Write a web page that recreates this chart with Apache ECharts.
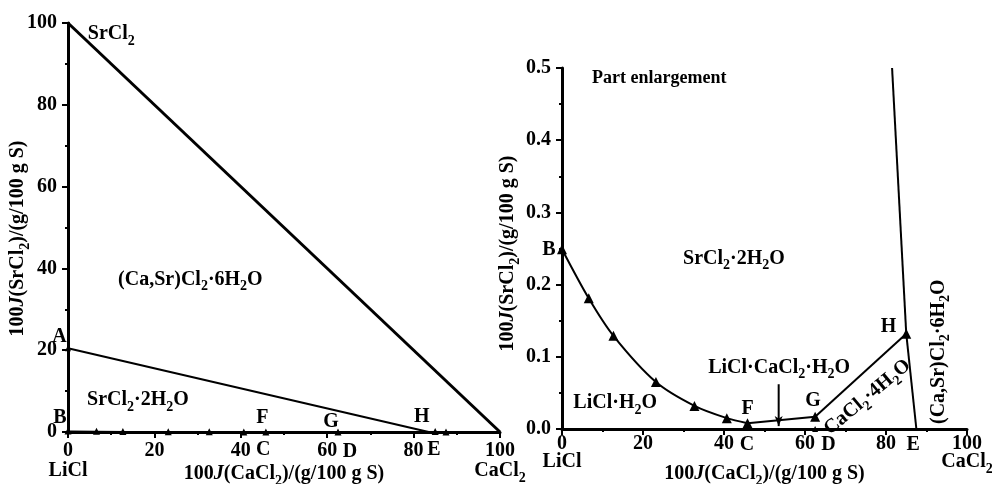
<!DOCTYPE html>
<html><head><meta charset="utf-8">
<script src="https://cdn.jsdelivr.net/npm/echarts@6/dist/echarts.min.js"></script>
<style>html,body{margin:0;padding:0;background:#fff}#c{width:992px;height:484px}</style>
</head><body><div id="c"></div>
<script>
// ---- data ----
const curveX = [0, 6.6, 12.7, 23.2, 32.7, 40.7, 45.8];
const curveY = [0.249, 0.181, 0.129, 0.065, 0.032, 0.015, 0.008];
const fgX = [45.8, 62.5], fgY = [0.008, 0.017];
const ghX = [62.5, 85.0], ghY = [0.017, 0.132];
const hTopX = [85.0, 81.5], hTopY = [0.132, 0.5];
const heX = [85.0, 87.5], heY = [0.132, 0];
const arrowX = [53.5, 53.5], arrowY = [0.062, 0.004];
const pointD = [62.5, 0];
const markerX = [62.5, 85.0], markerY = [0.017, 0.132];
const hypX = [0, 100], hypY = [100, 0];
const ahX = [0, 83.5], ahY = [20.5, 0];
const allX = [0, 6.6, 12.7, 23.2, 32.7, 40.7, 45.8, 62.5, 85.0, 87.5];
const allY = [0.249, 0.181, 0.129, 0.065, 0.032, 0.015, 0.008, 0.017, 0.132, 0];
const pointA = [0, 20.5];
const xName = '100*J*(CaCl_2)/(g/100 g S)';
const yName = '100*J*(SrCl_2)/(g/100 g S)';
// [text, x, y, align, rotate]
const leftLabels = [
  ['SrCl_2', 4.6, 97.3, 'left', 0],
  ['(Ca,Sr)Cl_2·6H_2O', 11.6, 37.2, 'left', 0],
  ['A', -0.3, 23.2, 'right', 0],
  ['SrCl_2·2H_2O', 4.4, 7.8, 'left', 0],
  ['B', -0.3, 3.4, 'right', 0],
  ['F', 45, 3.4, 'center', 0],
  ['G', 60.9, 2.4, 'center', 0],
  ['H', 81.9, 3.7, 'center', 0],
  ['C', 45.2, -4.4, 'center', 0],
  ['D', 65.3, -4.9, 'center', 0],
  ['E', 84.7, -4.4, 'center', 0]
];
const rightLabels = [
  ['Part enlargement', 7.4, 0.486, 'left', 0],
  ['SrCl_2·2H_2O', 29.9, 0.236, 'left', 0],
  ['LiCl·H_2O', 2.8, 0.036, 'left', 0],
  ['LiCl·CaCl_2·H_2O', 36.1, 0.085, 'left', 0],
  ['CaCl_2·4H_2O', 75.4, 0.044, 'center', 40],
  ['(Ca,Sr)Cl_2·6H_2O', 93, 0.107, 'center', 90],
  ['B', -1.6, 0.248, 'right', 0],
  ['F', 45.8, 0.028, 'center', 0],
  ['G', 62, 0.039, 'center', 0],
  ['H', 80.6, 0.141, 'center', 0],
  ['C', 45.7, -0.022, 'center', 0],
  ['D', 65.8, -0.022, 'center', 0],
  ['E', 86.7, -0.022, 'center', 0]
];

// ---- style ----
const FF = '"Liberation Serif","Times New Roman",serif';
const FS = 20;
const rich = {
  n: {fontFamily: FF, fontWeight: 'bold', fontSize: FS, color: '#000'},
  i: {fontFamily: FF, fontWeight: 'bold', fontStyle: 'italic', fontSize: FS, color: '#000'},
  s: {fontFamily: FF, fontWeight: 'bold', fontSize: 14, color: '#000', padding: [14, 0, 0, 0]}
};
const richP = {
  n: {fontFamily: FF, fontWeight: 'bold', fontSize: 18, color: '#000'}
};
function fmt(str) {
  return str.split(/(_\d|\*[A-Za-z]\*)/).filter(t => t.length).map(t => {
    if (t[0] === '_') return '{s|' + t.slice(1) + '}';
    if (t[0] === '*') return '{i|' + t.slice(1, -1) + '}';
    return '{n|' + t + '}';
  }).join('');
}
const zip = (xs, ys) => xs.map((x, k) => [x, ys[k]]);

function xAxisCfg(gi, gap, margin, lh) {
  return {
    type: 'value', gridIndex: gi, min: 0, max: 100, interval: 20,
    name: fmt(xName), nameLocation: 'middle', nameGap: gap, nameMoveOverlap: false,
    nameTextStyle: {rich: rich},
    axisLine: {lineStyle: {color: '#000', width: 3}},
    axisTick: {length: 6, lineStyle: {color: '#000', width: 2}},
    minorTick: {show: true, splitNumber: 2, length: 3, lineStyle: {color: '#000', width: 2}},
    splitLine: {show: false},
    axisLabel: {
      margin: margin, rich: rich, lineHeight: lh, hideOverlap: false,
      formatter: v => v === 0 ? '{n|0}\n{n|LiCl}' : (v === 100 ? '{n|100}\n' + fmt('CaCl_2') : '{n|' + v + '}')
    }
  };
}
function yAxisCfg(gi, max, interval, gap, dec, margin, shift) {
  return {
    type: 'value', gridIndex: gi, min: 0, max: max, interval: interval,
    name: fmt(yName), nameLocation: 'middle', nameGap: gap, nameRotate: 90, nameMoveOverlap: false,
    nameTextStyle: {rich: rich, padding: [0, shift, 0, 0]},
    axisLine: {show: true, lineStyle: {color: '#000', width: 3}},
    axisTick: {show: true, length: 6, lineStyle: {color: '#000', width: 2}},
    minorTick: {show: true, splitNumber: 2, length: 3, lineStyle: {color: '#000', width: 2}},
    splitLine: {show: false},
    axisLabel: {margin: margin, rich: rich, formatter: v => '{n|' + v.toFixed(dec) + '}'}
  };
}
function labelSeries(list, gi) {
  return {
    type: 'scatter', xAxisIndex: gi, yAxisIndex: gi, clip: false, silent: true,
    symbol: 'circle', symbolSize: 0, itemStyle: {color: '#000', opacity: 1}, z: 10,
    emphasis: {disabled: true},
    data: list.map(l => ({
      value: [l[1], l[2]],
      label: {show: true, position: 'inside', formatter: fmt(l[0]), align: l[3], verticalAlign: 'middle',
        rotate: l[4], rich: l[0] === 'Part enlargement' ? richP : rich, color: '#000',
        textBorderWidth: 0, opacity: 1}
    }))
  };
}
const lineBase = (gi, data, w) => ({
  type: 'line', xAxisIndex: gi, yAxisIndex: gi, data: data, symbol: 'none',
  lineStyle: {color: '#000', width: w}, itemStyle: {color: '#000'}, animation: false
});

const chart = echarts.init(document.getElementById('c'));
chart.setOption({
  animation: false,
  backgroundColor: '#fff',
  grid: [
    {left: 68, top: 23, width: 432, height: 409, outerBoundsMode: 'none'},
    {left: 562, top: 68, width: 405, height: 361, outerBoundsMode: 'none'}
  ],
  xAxis: [xAxisCfg(0, 28, 9, 20), xAxisCfg(1, 31, 6, 18)],
  yAxis: [yAxisCfg(0, 100, 20, 36, 0, 11, 22), yAxisCfg(1, 0.5, 0.1, 40, 1, 11, 10)],
  series: [
    // left chart
    lineBase(0, zip(hypX, hypY), 3),
    lineBase(0, zip(ahX, ahY), 2),
    Object.assign(lineBase(0, zip(allX, allY), 1), {symbol: 'triangle', symbolSize: 7}),
    Object.assign(lineBase(0, [pointA], 1), {symbol: 'triangle', symbolSize: 6}),
    labelSeries(leftLabels, 0),
    // right chart
    Object.assign(lineBase(1, zip(curveX, curveY), 2), {smooth: 0.3, symbol: 'triangle', symbolSize: 10}),
    lineBase(1, zip(fgX, fgY), 2),
    lineBase(1, zip(ghX, ghY), 2),
    lineBase(1, zip(hTopX, hTopY), 2),
    lineBase(1, zip(heX, heY), 2),
    Object.assign(lineBase(1, zip(markerX, markerY), 0), {symbol: 'triangle', symbolSize: 10, lineStyle: {opacity: 0}}),
    Object.assign(lineBase(1, [pointD], 0), {symbol: 'triangle', symbolSize: 6, lineStyle: {opacity: 0}}),
    Object.assign(lineBase(1, [], 2), {
      data: [
        {value: [arrowX[0], arrowY[0]], symbol: 'none'},
        {value: [arrowX[1], arrowY[1]], symbol: 'arrow', symbolSize: [6, 10], symbolRotate: 180}
      ],
      symbol: 'none'
    }),
    labelSeries(rightLabels, 1)
  ]
});
</script></body></html>
